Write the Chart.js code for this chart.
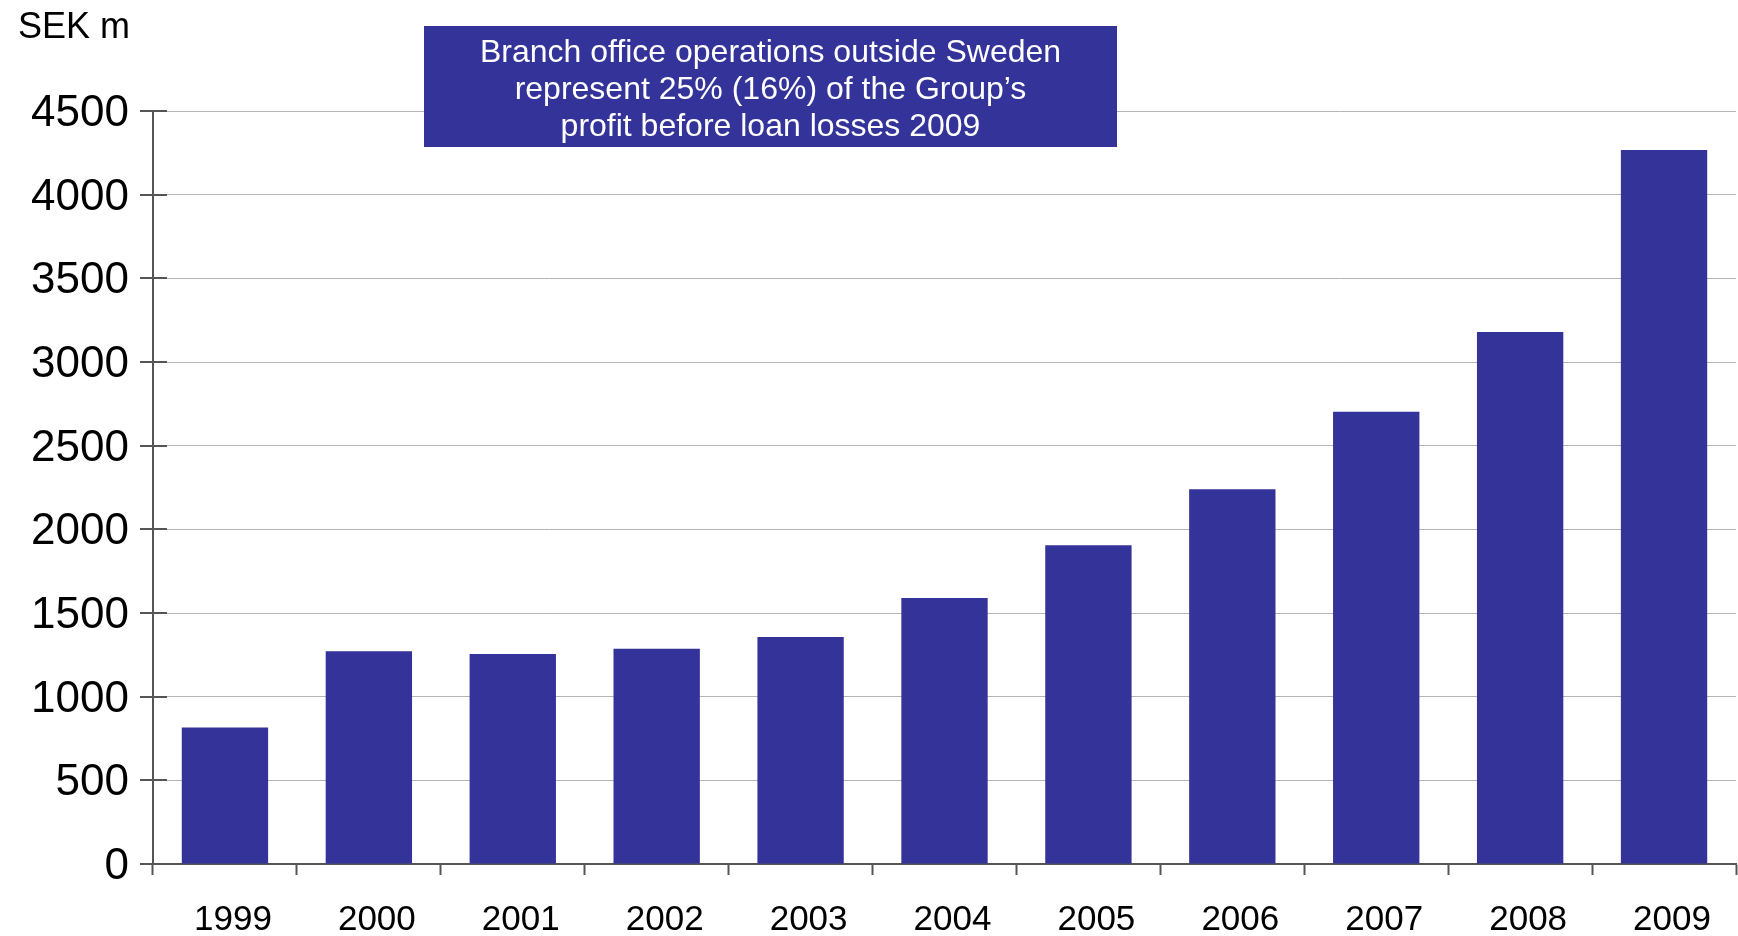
<!DOCTYPE html>
<html>
<head>
<meta charset="utf-8">
<script src="https://cdn.jsdelivr.net/npm/chart.js@4.4.0/dist/chart.umd.min.js"></script>
<style>
  html, body { margin: 0; padding: 0; background: #ffffff; }
  #wrap { width: 1738px; height: 936px; position: relative; }
  canvas { display: block; }
</style>
</head>
<body>
<div id="wrap"><canvas id="c" width="1738" height="936"></canvas></div>
<script>
const categories = ['1999','2000','2001','2002','2003','2004','2005','2006','2007','2008','2009'];
const profitValues = [815, 1272, 1255, 1287, 1356, 1590, 1905, 2240, 2702, 3180, 4267];
const yTickValues = [0, 500, 1000, 1500, 2000, 2500, 3000, 3500, 4000, 4500];
const unitLabel = 'SEK m';
const noteLines = [
  'Branch office operations outside Sweden',
  'represent 25% (16%) of the Group\u2019s',
  'profit before loan losses 2009'
];

const BAR = '#333399';
const AXIS = '#555555';
const GRID = '#b4b4b4';
const FONT = '"Liberation Sans", Arial, Helvetica, sans-serif';

const decorations = {
  id: 'decorations',
  afterDraw(chart) {
    const ctx = chart.ctx;
    const y = chart.scales.y;
    ctx.save();
    ctx.strokeStyle = AXIS;
    ctx.lineWidth = 2;
    y.ticks.forEach(t => {
      const py = Math.round(y.getPixelForValue(t.value));
      ctx.beginPath();
      ctx.moveTo(y.right - 13, py);
      ctx.lineTo(y.right + 14, py);
      ctx.stroke();
    });
    ctx.fillStyle = '#000000';
    ctx.font = '36px ' + FONT;
    ctx.textAlign = 'left';
    ctx.textBaseline = 'alphabetic';
    ctx.fillText(unitLabel, 18, 38);
    ctx.fillStyle = BAR;
    ctx.fillRect(424, 26, 693, 121);
    ctx.fillStyle = '#ffffff';
    ctx.font = '32px ' + FONT;
    ctx.textAlign = 'center';
    const baselines = [62, 99, 136];
    noteLines.forEach((s, i) => ctx.fillText(s, 770.5, baselines[i]));
    ctx.restore();
  }
};

new Chart(document.getElementById('c'), {
  type: 'bar',
  data: {
    labels: categories,
    datasets: [{
      data: profitValues,
      backgroundColor: BAR,
      borderWidth: 0,
      barPercentage: 0.6,
      categoryPercentage: 1.0
    }]
  },
  options: {
    responsive: false,
    animation: false,
    events: [],
    layout: { padding: { top: 111, right: 2, left: 0, bottom: 0 } },
    plugins: { legend: { display: false }, tooltip: { enabled: false } },
    scales: {
      x: {
        afterFit(s) { s.height = 72; },
        grid: {
          offset: true,
          drawOnChartArea: false,
          drawTicks: true,
          tickLength: 11,
          tickColor: AXIS,
          tickWidth: 2
        },
        border: { display: true, color: AXIS, width: 2 },
        ticks: {
          color: '#000000',
          font: { family: FONT, size: 35 },
          padding: 24,
          labelOffset: 8,
          maxRotation: 0,
          autoSkip: false
        }
      },
      y: {
        min: 0,
        max: 4500,
        afterFit(s) { s.width = 153; },
        afterBuildTicks(s) { s.ticks = yTickValues.map(v => ({ value: v })); },
        grid: {
          color: GRID,
          lineWidth: 1,
          drawTicks: false
        },
        border: { display: true, color: AXIS, width: 2 },
        ticks: {
          color: '#000000',
          font: { family: FONT, size: 44 },
          padding: 24,
          labelOffset: 3,
          callback: v => String(v)
        }
      }
    }
  },
  plugins: [decorations]
});
</script>
</body>
</html>
